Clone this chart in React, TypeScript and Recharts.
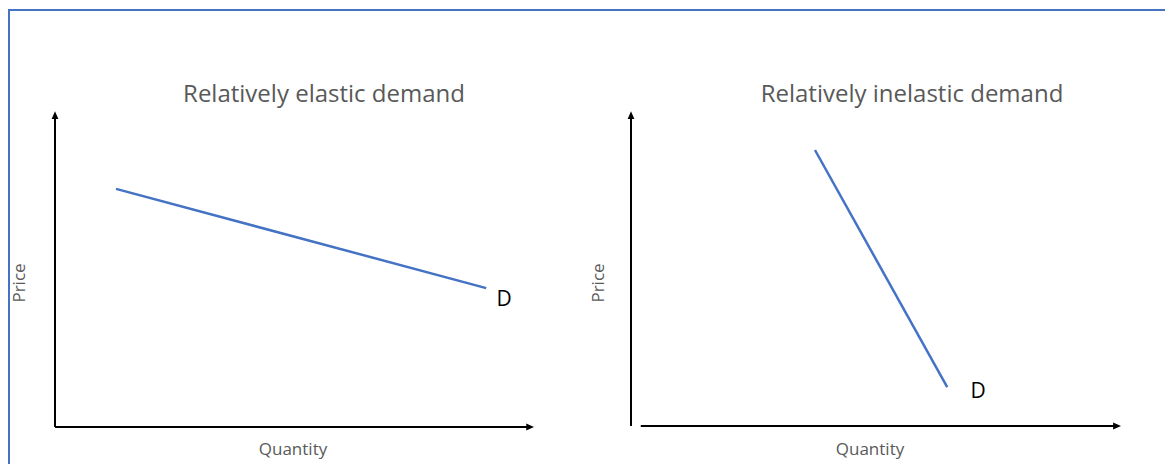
import React from 'react';
import { LineChart, Line, XAxis, YAxis, ReferenceLine } from 'recharts';

// demand curves (quantity 0-100, price 0-100 on each panel)
const elasticQuantity = [12.8, 90.4];
const elasticPrice = [75.6, 44.1];
const inelasticQuantity = [37.7, 64.8];
const inelasticPrice = [87.9, 12.4];

const titles = ['Relatively elastic demand', 'Relatively inelastic demand'];
const xLabel = 'Quantity';
const yLabel = 'Price';
const curveLabel = 'D';

const toRows = (q: number[], p: number[]) => q.map((x, i) => ({ x, y: p[i] }));
const elasticData = toRows(elasticQuantity, elasticPrice);
const inelasticData = toRows(inelasticQuantity, inelasticPrice);

const BLUE = '#4472C4';
const GREY = '#595959';
const FONT = '"Open Sans", sans-serif';

const Arrow = (props: any) => {
  const { x1, y1, x2, y2 } = props;
  const id = `ah-${Math.round(x1)}-${Math.round(y1)}-${Math.round(x2)}-${Math.round(y2)}`;
  return (
    <g>
      <defs>
        <marker id={id} markerWidth="8" markerHeight="8" refX="1" refY="4" orient="auto" markerUnits="userSpaceOnUse">
          <path d="M0,0.5 L8,4 L0,7.5 z" fill="#000" />
        </marker>
      </defs>
      <line x1={x1} y1={y1} x2={x2} y2={y2} stroke="#000" strokeWidth={2} markerEnd={`url(#${id})`} />
    </g>
  );
};

const Panel = ({ data, left, width, margin, xStart }: any) => (
  <div style={{ position: 'absolute', left, top: 0 }}>
    <LineChart width={width} height={464} data={data} margin={margin}>
      <XAxis type="number" dataKey="x" domain={[0, 100]} hide />
      <YAxis type="number" domain={[0, 100]} hide />
      <ReferenceLine segment={[{ x: 0, y: 0 }, { x: 0, y: 98 }]} ifOverflow="visible" shape={Arrow} />
      <ReferenceLine segment={[{ x: xStart, y: 0 }, { x: 99, y: 0 }]} ifOverflow="visible" shape={Arrow} />
      <Line type="linear" dataKey="y" stroke={BLUE} strokeWidth={2.5} dot={false} isAnimationActive={false} />
    </LineChart>
  </div>
);

const Txt = ({ x, y, size, color = GREY, rotate = false, children }: any) => (
  <div
    style={{
      position: 'absolute',
      left: x,
      top: y,
      transform: `translate(-50%, -50%)${rotate ? ' rotate(-90deg)' : ''}`,
      fontFamily: FONT,
      fontSize: size,
      lineHeight: 1,
      color,
      whiteSpace: 'nowrap',
    }}
  >
    {children}
  </div>
);

export default function App() {
  return (
    <div style={{ position: 'absolute', left: 0, top: 0, width: 1165, height: 464, overflow: 'hidden', background: '#fff' }}>
      <div style={{ position: 'absolute', left: 8, top: 9, width: 1200, height: 500, border: `2px solid ${BLUE}`, boxSizing: 'border-box' }} />
      <Panel data={elasticData} left={0} width={600} margin={{ top: 112, right: 68, bottom: 37, left: 55 }} xStart={0} />
      <Panel data={inelasticData} left={580} width={585} margin={{ top: 112, right: 46, bottom: 38, left: 51 }} xStart={2} />
      <Txt x={324} y={93} size={24}>{titles[0]}</Txt>
      <Txt x={912} y={93} size={24}>{titles[1]}</Txt>
      <Txt x={18} y={283} size={17} rotate>{yLabel}</Txt>
      <Txt x={597} y={283} size={17} rotate>{yLabel}</Txt>
      <Txt x={293} y={448} size={17}>{xLabel}</Txt>
      <Txt x={870} y={448} size={17}>{xLabel}</Txt>
      <Txt x={504} y={298} size={21} color="#000">{curveLabel}</Txt>
      <Txt x={978} y={390} size={21} color="#000">{curveLabel}</Txt>
    </div>
  );
}
